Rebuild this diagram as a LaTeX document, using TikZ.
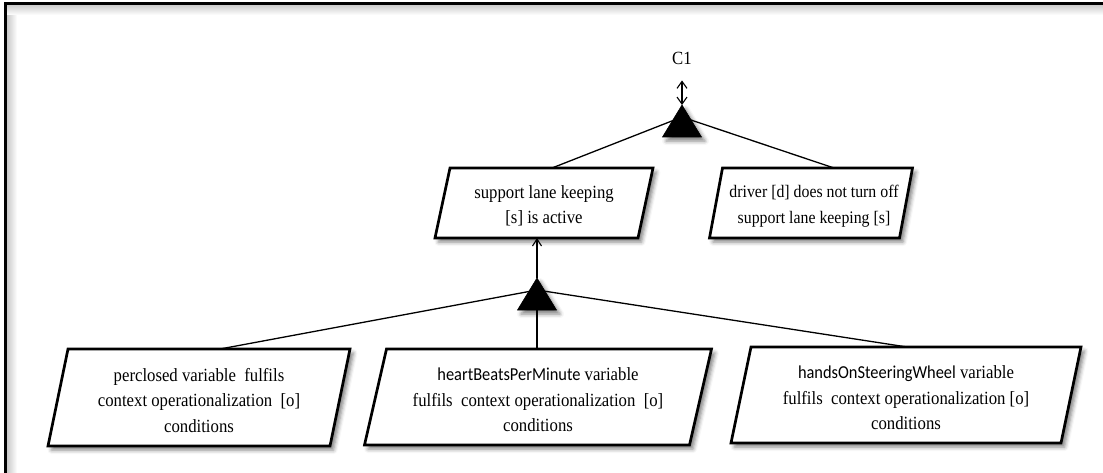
\documentclass[tikz,border=0pt]{standalone}
\usepackage{fontspec}
\setmainfont[FakeStretch=0.9]{Liberation Serif}
\newfontfamily\varfont[Scale=0.98,FakeStretch=0.9]{Carlito}
\usetikzlibrary{arrows.meta,shadows.blur}

\tikzset{
  softshadow/.style={blur shadow={shadow xshift=3.5pt, shadow yshift=-4pt,
      shadow blur radius=4pt, shadow opacity=50}},
  conn/.style={draw=black, line width=1.3pt},
  goalbox/.style={draw=black, line width=2.7pt, fill=white, line join=miter, softshadow},
  boxtext/.style={align=center, inner sep=0pt, font=\fontsize{18.6}{25.5}\selectfont},
  smalltext/.style={font=\fontsize{17.6}{25.5}\selectfont},
  gate/.style={fill=black, draw=black, line width=0.6pt, line join=miter, softshadow},
  barb/.style={line width=1.1pt},
}

% goal box: [text options], name, centre x, centre y, top width, height, skew, text
\newcommand\goalpar[8][]{%
  \path[goalbox] (#3-#5/2+#7/2, #4-#6/2) -- ++(#5,0) -- ++(-#7,#6) -- ++(-#5,0) -- cycle;
  \node[boxtext,#1] (#2) at (#3,#4+3) {#8};
  \coordinate (#2-top) at (#3,#4-#6/2);
  \coordinate (#2-bottom) at (#3,#4+#6/2);
}
% AND gate: apex x, apex y
\newcommand\andgate[2]{%
  \path[gate] (#1,#2) -- (#1+19.5,#2+32) -- (#1-19.5,#2+32) -- cycle;
}
\newcommand\gatepoints[3]{%
  \coordinate (#1-apex) at (#2,#3);
  \coordinate (#1-hub) at (#2,#3+12);
}

\begin{document}
\begin{tikzpicture}[x=1pt,y=-1pt]
  \useasboundingbox (0,0) rectangle (1103,473);
  \clip (0,0) rectangle (1103,473);

  % frame with inner shading
  \shade[left color=black!22, right color=white] (6.5,4) rectangle (17,473);
  \shade[top color=black!22, bottom color=white] (6.5,4) rectangle (1103,15);
  \draw[line width=3pt] (5.5,480) -- (5.5,3.2) -- (1110,3.2);

  % gate anchor points
  \gatepoints{g1}{682}{105}
  \gatepoints{g2}{537}{278}

  % box anchor coordinates (for connectors drawn beneath the boxes)
  \coordinate (b1-top) at (544,168);
  \coordinate (b2-top) at (811,168);
  \coordinate (b3-top) at (199,349);
  \coordinate (b4-top) at (538,349);
  \coordinate (b5-top) at (906,347);

  % connectors from gates to their children
  \draw[conn] (g1-hub) -- ([xshift=8pt]b1-top);
  \draw[conn] (g1-hub) -- ([xshift=23pt]b2-top);
  \draw[conn] (g2-hub) -- ([xshift=21pt]b3-top);
  \draw[conn] (g2-hub) -- (g2-hub |- b4-top);
  \draw[conn] (g2-hub) -- ([xshift=1pt]b5-top);

  % goal boxes
  \goalpar{b1}{544}{203}{203}{70}{15}{support lane keeping\\{[s]} is active}
  \goalpar[smalltext, xshift=3pt]{b2}{811}{203}{190}{70}{13}{driver [d] does not turn off\\support lane keeping [s]}
  \goalpar{b3}{199}{397.5}{282}{97}{20}{perclosed variable\ \ fulfils\\context operationalization\ \ [o]\\conditions}
  \goalpar{b4}{538}{397}{325}{96}{22}{{\varfont heartBeatsPerMinute} variable\\fulfils\ \ context operationalization\ \ [o]\\conditions}
  \goalpar{b5}{906}{395}{330}{96}{20}{{\varfont handsOnSteeringWheel} variable\\fulfils\ \ context operationalization [o]\\conditions}

  % AND gates
  \andgate{682}{105}
  \andgate{537}{278}

  % top context label and arrows
  \node[font=\fontsize{18.6}{20}\selectfont, inner sep=0pt] (c1) at (682,58) {C1};
  \draw[barb, {Straight Barb[length=7pt,width=10pt]}-{Straight Barb[length=7pt,width=10pt]}]
    ([yshift=-16pt]c1.south) -- (g1-apex);
  \draw[barb, -{Straight Barb[length=7pt,width=9pt]}] (g2-apex) -- (g2-apex |- b1-bottom);
\end{tikzpicture}
\end{document}
